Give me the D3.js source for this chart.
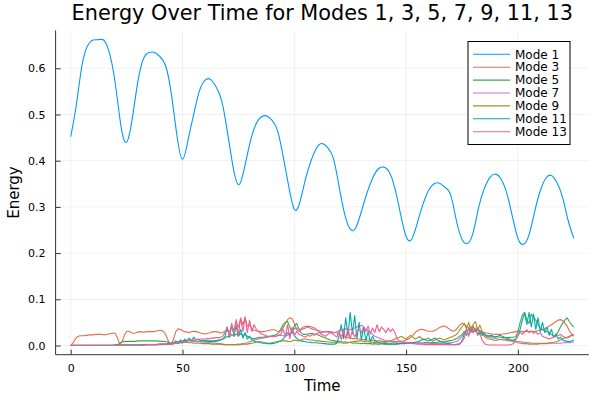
<!DOCTYPE html>
<html>
<head>
<meta charset="utf-8">
<script src="https://cdn.jsdelivr.net/npm/d3@7"></script>
<style>
html,body{margin:0;padding:0;background:#fff;}
svg{display:block;font-family:"DejaVu Sans",sans-serif;}
</style>
</head>
<body>
<svg id="chart" width="600" height="400"></svg>
<script>
// ---------- data ----------
const titleText = "Energy Over Time for Modes 1, 3, 5, 7, 9, 11, 13";
const xTicks = [0, 50, 100, 150, 200];
const yTicks = [0.0, 0.1, 0.2, 0.3, 0.4, 0.5, 0.6];
const seriesNames = ["Mode 1", "Mode 3", "Mode 5", "Mode 7", "Mode 9", "Mode 11", "Mode 13"];
const seriesColors = ["#009AFA", "#E36F47", "#3EA44E", "#C371D2", "#AC8E18", "#00AAAE", "#ED5E93"];

// Mode 1 sampled every 2.5 time units
const mode1Time = d3.range(0, 225.01, 2.5);
const mode1 = [0.452,0.52,0.605,0.648,0.661,0.662,0.660,0.630,0.565,0.475,
  0.440,0.49,0.57,0.62,0.634,0.634,0.625,0.605,0.545,0.455,
  0.403,0.445,0.50,0.55,0.574,0.576,0.56,0.53,0.465,0.39,
  0.348,0.38,0.435,0.475,0.494,0.497,0.488,0.465,0.41,0.345,
  0.295,0.31,0.36,0.40,0.428,0.437,0.428,0.405,0.345,0.285,
  0.252,0.255,0.29,0.33,0.362,0.382,0.386,0.375,0.34,0.285,
  0.236,0.23,0.265,0.305,0.335,0.35,0.351,0.342,0.325,0.27,
  0.23,0.221,0.245,0.30,0.34,0.364,0.371,0.36,0.33,0.28,
  0.232,0.219,0.24,0.29,0.335,0.362,0.368,0.352,0.32,0.27,
  0.232];

// Other modes sampled every 1 time unit (t = 0..225)
const modeTime = d3.range(0, 226, 1);
const mode3 = [0,0.005,0.014,0.019,0.021,0.021,0.021,0.022,0.023,0.023,
  0.023,0.024,0.024,0.024,0.024,0.023,0.024,0.025,0.026,0.027,
  0.026,0.015,0.003,0.008,0.022,0.031,0.031,0.028,0.026,0.027,
  0.029,0.030,0.029,0.029,0.030,0.030,0.030,0.030,0.031,0.032,
  0.033,0.032,0.028,0.018,0.006,0.003,0.014,0.030,0.036,0.035,
  0.032,0.030,0.029,0.028,0.030,0.031,0.030,0.029,0.027,0.026,
  0.025,0.026,0.027,0.029,0.030,0.030,0.029,0.027,0.028,0.031,
  0.033,0.030,0.038,0.034,0.050,0.040,0.058,0.045,0.060,0.042,
  0.045,0.036,0.033,0.032,0.031,0.030,0.030,0.031,0.032,0.033,
  0.034,0.034,0.032,0.030,0.032,0.038,0.048,0.056,0.060,0.058,
  0.048,0.034,0.030,0.036,0.040,0.041,0.042,0.041,0.040,0.038,
  0.034,0.030,0.028,0.029,0.030,0.031,0.030,0.029,0.028,0.027,
  0.025,0.022,0.020,0.018,0.017,0.016,0.015,0.015,0.014,0.014,
  0.013,0.013,0.012,0.012,0.011,0.011,0.010,0.010,0.010,0.009,
  0.009,0.008,0.008,0.008,0.007,0.007,0.007,0.008,0.009,0.010,
  0.012,0.014,0.017,0.022,0.028,0.032,0.034,0.035,0.034,0.032,
  0.031,0.031,0.031,0.033,0.036,0.039,0.041,0.042,0.040,0.037,
  0.033,0.031,0.033,0.038,0.044,0.048,0.046,0.042,0.038,0.036,
  0.035,0.034,0.033,0.032,0.030,0.028,0.027,0.026,0.025,0.025,
  0.024,0.024,0.024,0.025,0.025,0.026,0.027,0.028,0.029,0.030,
  0.031,0.031,0.030,0.030,0.030,0.030,0.030,0.030,0.031,0.032,
  0.033,0.035,0.037,0.039,0.042,0.045,0.048,0.052,0.055,0.056,
  0.054,0.048,0.042,0.032,0.024,0.020];
const mode5 = [0,0.001,0.001,0.001,0.001,0.001,0.001,0.001,0.001,0.001,
  0.001,0.001,0.001,0.001,0.001,0.001,0.001,0.001,0.001,0.001,
  0.001,0.002,0.005,0.008,0.009,0.009,0.009,0.009,0.009,0.009,
  0.010,0.010,0.010,0.010,0.010,0.010,0.010,0.010,0.010,0.010,
  0.009,0.009,0.009,0.008,0.006,0.005,0.006,0.007,0.008,0.009,
  0.010,0.011,0.012,0.012,0.011,0.010,0.009,0.009,0.009,0.010,
  0.011,0.011,0.010,0.010,0.010,0.011,0.012,0.013,0.014,0.016,
  0.020,0.018,0.024,0.020,0.025,0.021,0.026,0.022,0.024,0.020,
  0.018,0.015,0.015,0.016,0.017,0.018,0.018,0.019,0.019,0.020,
  0.021,0.022,0.024,0.028,0.036,0.045,0.050,0.052,0.040,0.028,
  0.042,0.048,0.036,0.028,0.024,0.024,0.025,0.026,0.026,0.025,
  0.024,0.022,0.020,0.018,0.016,0.014,0.012,0.011,0.010,0.009,
  0.009,0.008,0.007,0.008,0.006,0.007,0.005,0.006,0.005,0.005,
  0.004,0.005,0.004,0.004,0.004,0.003,0.004,0.003,0.003,0.004,
  0.003,0.003,0.003,0.004,0.003,0.003,0.004,0.004,0.005,0.004,
  0.005,0.005,0.005,0.006,0.005,0.006,0.006,0.005,0.006,0.007,
  0.006,0.006,0.007,0.006,0.007,0.008,0.007,0.008,0.009,0.010,
  0.011,0.012,0.014,0.016,0.020,0.024,0.030,0.022,0.038,0.028,
  0.042,0.030,0.036,0.026,0.030,0.024,0.022,0.021,0.020,0.020,
  0.019,0.019,0.018,0.018,0.017,0.017,0.017,0.018,0.018,0.019,
  0.030,0.050,0.066,0.072,0.055,0.048,0.068,0.060,0.055,0.045,
  0.038,0.034,0.032,0.030,0.028,0.024,0.019,0.022,0.030,0.040,
  0.048,0.055,0.060,0.052,0.045,0.040];
const mode7 = [0,0,0,0,0,0,0,0,0,0,
  0,0,0,0,0,0,0,0,0,0,
  0,0,0.001,0.001,0.001,0.001,0.001,0.001,0.001,0.001,
  0.001,0.001,0.001,0.002,0.002,0.002,0.002,0.002,0.002,0.003,
  0.003,0.003,0.003,0.003,0.004,0.004,0.004,0.005,0.005,0.006,
  0.006,0.007,0.007,0.007,0.008,0.008,0.008,0.008,0.008,0.007,
  0.007,0.007,0.006,0.006,0.005,0.005,0.004,0.004,0.003,0.002,
  0.002,0.002,0.002,0.002,0.002,0.003,0.003,0.004,0.005,0.006,
  0.008,0.010,0.012,0.013,0.014,0.015,0.016,0.017,0.018,0.019,
  0.020,0.020,0.021,0.022,0.022,0.021,0.020,0.022,0.026,0.032,
  0.036,0.038,0.036,0.034,0.036,0.038,0.040,0.038,0.036,0.034,
  0.033,0.032,0.031,0.030,0.030,0.029,0.028,0.027,0.028,0.030,
  0.032,0.034,0.035,0.036,0.035,0.034,0.036,0.038,0.040,0.042,
  0.044,0.040,0.036,0.032,0.028,0.024,0.020,0.018,0.016,0.014,
  0.012,0.011,0.010,0.010,0.009,0.009,0.008,0.008,0.007,0.007,
  0.007,0.006,0.006,0.006,0.006,0.005,0.005,0.005,0.005,0.005,
  0.005,0.004,0.004,0.004,0.004,0.004,0.005,0.005,0.005,0.006,
  0.006,0.007,0.008,0.010,0.014,0.020,0.026,0.030,0.034,0.032,
  0.028,0.034,0.038,0.032,0.026,0.022,0.020,0.018,0.017,0.016,
  0.015,0.014,0.013,0.012,0.012,0.011,0.010,0.010,0.009,0.008,
  0.006,0.005,0.004,0.004,0.004,0.003,0.003,0.003,0.003,0.003,
  0.004,0.004,0.004,0.004,0.005,0.005,0.005,0.005,0.005,0.005,
  0.006,0.006,0.006,0.006,0.007,0.007];
const mode9 = [0,0,0,0,0,0,0,0,0,0,
  0,0,0,0,0,0,0,0,0,0,
  0.001,0.001,0.001,0.001,0.001,0.001,0.001,0.001,0.001,0.001,
  0.001,0.001,0.001,0.001,0.002,0.002,0.002,0.002,0.002,0.002,
  0.002,0.002,0.003,0.003,0.003,0.003,0.004,0.005,0.005,0.006,
  0.006,0.007,0.007,0.006,0.006,0.005,0.005,0.005,0.005,0.004,
  0.004,0.004,0.004,0.003,0.003,0.003,0.003,0.003,0.002,0.002,
  0.002,0.002,0.002,0.002,0.002,0.002,0.002,0.003,0.003,0.003,
  0.004,0.005,0.006,0.007,0.008,0.008,0.007,0.006,0.005,0.005,
  0.006,0.007,0.008,0.009,0.010,0.010,0.010,0.009,0.008,0.010,
  0.012,0.011,0.010,0.012,0.014,0.014,0.013,0.012,0.012,0.011,
  0.010,0.010,0.009,0.009,0.008,0.008,0.007,0.007,0.007,0.006,
  0.006,0.006,0.005,0.005,0.006,0.007,0.008,0.009,0.009,0.010,
  0.010,0.009,0.008,0.008,0.007,0.007,0.006,0.006,0.006,0.005,
  0.006,0.007,0.008,0.010,0.012,0.014,0.016,0.018,0.020,0.016,
  0.014,0.018,0.022,0.018,0.014,0.016,0.020,0.015,0.012,0.014,
  0.016,0.012,0.010,0.012,0.014,0.016,0.014,0.012,0.014,0.016,
  0.018,0.020,0.022,0.026,0.034,0.040,0.048,0.036,0.050,0.030,
  0.046,0.052,0.034,0.044,0.030,0.020,0.016,0.014,0.013,0.012,
  0.011,0.012,0.013,0.014,0.014,0.013,0.012,0.011,0.010,0.009,
  0.008,0.008,0.007,0.007,0.006,0.006,0.005,0.005,0.005,0.005,
  0.005,0.005,0.005,0.005,0.006,0.006,0.007,0.008,0.010,0.012,
  0.014,0.016,0.018,0.020,0.022,0.024];
const mode11 = [0,0,0,0,0,0,0,0,0,0,
  0,0,0,0,0,0,0,0,0,0,
  0.001,0.001,0.001,0.001,0.001,0.001,0.001,0.001,0.001,0.001,
  0.001,0.001,0.002,0.002,0.002,0.002,0.002,0.002,0.002,0.002,
  0.003,0.003,0.003,0.003,0.004,0.005,0.006,0.010,0.004,0.012,
  0.006,0.014,0.008,0.016,0.010,0.018,0.012,0.014,0.010,0.012,
  0.009,0.010,0.008,0.009,0.008,0.009,0.010,0.012,0.014,0.020,
  0.040,0.018,0.045,0.022,0.042,0.020,0.035,0.016,0.028,0.014,
  0.020,0.012,0.010,0.008,0.007,0.006,0.005,0.005,0.004,0.004,
  0.004,0.005,0.006,0.008,0.010,0.014,0.020,0.028,0.024,0.030,
  0.022,0.016,0.012,0.010,0.009,0.008,0.007,0.007,0.006,0.006,
  0.006,0.005,0.005,0.004,0.004,0.003,0.003,0.003,0.003,0.005,
  0.020,0.045,0.015,0.060,0.020,0.072,0.025,0.065,0.015,0.050,
  0.012,0.040,0.010,0.030,0.008,0.020,0.010,0.008,0.006,0.005,
  0.004,0.004,0.003,0.003,0.003,0.003,0.003,0.004,0.004,0.004,
  0.005,0.005,0.006,0.006,0.007,0.008,0.010,0.012,0.014,0.012,
  0.010,0.012,0.014,0.016,0.012,0.010,0.008,0.006,0.005,0.004,
  0.003,0.002,0.002,0.002,0.003,0.010,0.025,0.035,0.022,0.040,
  0.028,0.036,0.024,0.030,0.022,0.026,0.020,0.020,0.022,0.020,
  0.018,0.020,0.022,0.020,0.018,0.016,0.014,0.012,0.012,0.014,
  0.020,0.035,0.055,0.070,0.045,0.072,0.040,0.068,0.035,0.060,
  0.030,0.050,0.028,0.040,0.022,0.035,0.018,0.025,0.014,0.018,
  0.012,0.010,0.009,0.008,0.010,0.012];
const mode13 = [0,0,0,0,0,0,0,0,0,0,
  0,0,0,0,0,0,0,0,0,0,
  0,0,0.001,0.001,0.001,0.001,0.001,0.001,0.001,0.001,
  0.001,0.001,0.001,0.001,0.002,0.002,0.002,0.002,0.002,0.002,
  0.003,0.003,0.003,0.003,0.003,0.003,0.004,0.005,0.006,0.007,
  0.008,0.009,0.010,0.011,0.012,0.012,0.013,0.013,0.014,0.014,
  0.014,0.015,0.015,0.016,0.016,0.017,0.017,0.018,0.020,0.028,
  0.040,0.020,0.048,0.025,0.056,0.022,0.060,0.030,0.062,0.028,
  0.055,0.030,0.045,0.035,0.030,0.026,0.024,0.022,0.020,0.020,
  0.019,0.019,0.020,0.022,0.025,0.035,0.020,0.045,0.015,0.040,
  0.022,0.030,0.025,0.022,0.020,0.018,0.022,0.020,0.024,0.022,
  0.026,0.028,0.025,0.022,0.020,0.024,0.028,0.026,0.022,0.018,
  0.030,0.012,0.035,0.014,0.038,0.015,0.032,0.018,0.030,0.035,
  0.028,0.040,0.030,0.042,0.025,0.038,0.028,0.045,0.030,0.040,
  0.035,0.028,0.038,0.030,0.036,0.028,0.014,0.010,0.008,0.007,
  0.006,0.005,0.005,0.004,0.004,0.003,0.003,0.003,0.002,0.002,
  0.002,0.002,0.002,0.002,0.002,0.002,0.002,0.002,0.002,0.002,
  0.002,0.002,0.002,0.003,0.004,0.008,0.016,0.035,0.020,0.042,
  0.028,0.038,0.022,0.025,0.012,0.004,0.002,0.001,0.001,0.001,
  0.001,0.001,0.001,0.001,0.001,0.001,0.001,0.002,0.004,0.012,
  0.022,0.028,0.024,0.030,0.034,0.028,0.032,0.026,0.030,0.024,
  0.028,0.020,0.018,0.016,0.014,0.016,0.018,0.020,0.022,0.024,
  0.020,0.018,0.016,0.018,0.022,0.024];

// ---------- layout ----------
const W = 600, H = 400;
const plot = {left: 55.6, right: 588.9, top: 30.4, bottom: 354.7};
const svg = d3.select("#chart");

const x = d3.scaleLinear().domain([-6.75, 231.75]).range([plot.left, plot.right]);
const y = d3.scaleLinear().domain([-0.0199, 0.682]).range([plot.bottom, plot.top]);

// grid
const grid = svg.append("g");
grid.selectAll(".gx").data(xTicks).enter().append("line")
  .attr("x1", d => x(d)).attr("x2", d => x(d))
  .attr("y1", plot.top).attr("y2", plot.bottom)
  .attr("stroke", "#000").attr("stroke-opacity", 0.1).attr("stroke-width", 0.6);
grid.selectAll(".gy").data(yTicks).enter().append("line")
  .attr("x1", plot.left).attr("x2", plot.right)
  .attr("y1", d => y(d)).attr("y2", d => y(d))
  .attr("stroke", "#000").attr("stroke-opacity", 0.1).attr("stroke-width", 0.6);

// lines
svg.append("clipPath").attr("id", "clip").append("rect")
  .attr("x", plot.left).attr("y", plot.top)
  .attr("width", plot.right - plot.left).attr("height", plot.bottom - plot.top);
const lineG = svg.append("g").attr("clip-path", "url(#clip)");

const series = [
  {t: mode1Time, v: mode1},
  {t: modeTime, v: mode3},
  {t: modeTime, v: mode5},
  {t: modeTime, v: mode7},
  {t: modeTime, v: mode9},
  {t: modeTime, v: mode11},
  {t: modeTime, v: mode13}
];
series.forEach((s, i) => {
  const pts = s.v.map((v, k) => [s.t[k], v]);
  const gen = d3.line().x(d => x(d[0])).y(d => y(d[1]))
    .curve(i === 0 ? d3.curveNatural : d3.curveLinear);
  lineG.append("path").datum(pts)
    .attr("d", gen).attr("fill", "none")
    .attr("stroke", seriesColors[i]).attr("stroke-width", 1.1)
    .attr("stroke-linejoin", "round");
});

// axes spines
const axisColor = "#333";
svg.append("line").attr("x1", plot.left).attr("x2", plot.left)
  .attr("y1", plot.top).attr("y2", plot.bottom).attr("stroke", axisColor).attr("stroke-width", 1);
svg.append("line").attr("x1", plot.left).attr("x2", plot.right)
  .attr("y1", plot.bottom).attr("y2", plot.bottom).attr("stroke", axisColor).attr("stroke-width", 1);

// x axis ticks + labels
const xAxis = d3.axisBottom(x).tickValues(xTicks).tickSizeInner(-5).tickSizeOuter(0)
  .tickPadding(10).tickFormat(d3.format("d"));
const gx = svg.append("g").attr("transform", `translate(0,${plot.bottom})`).call(xAxis);
gx.select(".domain").remove();
gx.selectAll(".tick line").attr("stroke", axisColor);
gx.selectAll(".tick text").attr("font-size", 11).attr("fill", "#000")
  .attr("font-family", "DejaVu Sans, sans-serif");

const yAxis = d3.axisLeft(y).tickValues(yTicks).tickSizeInner(-5).tickSizeOuter(0)
  .tickPadding(10).tickFormat(d3.format(".1f"));
const gy = svg.append("g").attr("transform", `translate(${plot.left},0)`).call(yAxis);
gy.select(".domain").remove();
gy.selectAll(".tick line").attr("stroke", axisColor);
gy.selectAll(".tick text").attr("font-size", 11).attr("fill", "#000")
  .attr("font-family", "DejaVu Sans, sans-serif");

// title & labels
const cx = (plot.left + plot.right) / 2;
svg.append("text").attr("x", cx).attr("y", 20).attr("text-anchor", "middle")
  .attr("font-size", 20.8).attr("fill", "#000").text(titleText);
svg.append("text").attr("x", cx).attr("y", 391).attr("text-anchor", "middle")
  .attr("font-size", 15).attr("fill", "#000").text("Time");
svg.append("text").attr("transform", `translate(19,${(plot.top + plot.bottom) / 2}) rotate(-90)`)
  .attr("text-anchor", "middle").attr("font-size", 15).attr("fill", "#000").text("Energy");

// legend
const leg = svg.append("g");
leg.append("rect").attr("x", 468).attr("y", 41.5).attr("width", 102).attr("height", 103)
  .attr("fill", "#fff").attr("stroke", "#000").attr("stroke-width", 1);
seriesNames.forEach((n, i) => {
  const yy = 54.3 + i * 12.9;
  leg.append("line").attr("x1", 473).attr("x2", 510).attr("y1", yy).attr("y2", yy)
    .attr("stroke", seriesColors[i]).attr("stroke-width", 1.1);
  leg.append("text").attr("x", 515).attr("y", yy + 4.2).attr("font-size", 12)
    .attr("fill", "#000").text(n);
});
</script>
</body>
</html>
